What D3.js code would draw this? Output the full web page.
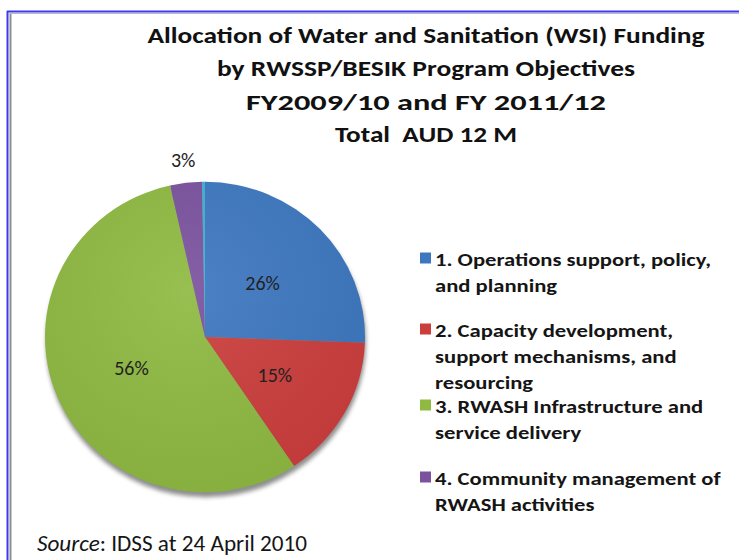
<!DOCTYPE html>
<html><head><meta charset="utf-8">
<script src="https://cdn.jsdelivr.net/npm/d3@7"></script>
<style>
html,body{margin:0;padding:0;background:#fff;}
svg{display:block;}
</style></head>
<body>
<svg id="chart" width="739" height="560"></svg>
<script>
const titleLines = ["Allocation of Water and Sanitation (WSI) Funding","by RWSSP/BESIK Program Objectives","FY2009/10 and FY 2011/12","Total  AUD 12 M"];
const categories = ["1. Operations support, policy, and planning","2. Capacity development, support mechanisms, and resourcing","3. RWASH Infrastructure and service delivery","4. Community management of RWASH activities",""];
const legendLines = [["1. Operations support, policy,","and planning"],["2. Capacity development,","support mechanisms, and","resourcing"],["3. RWASH Infrastructure and","service delivery"],["4. Community management of","RWASH activities"]];
const values = [25.6, 15.0, 55.9, 3.2, 0.3];
const labels = ["26%","15%","56%","3%",""];
const colors = ["#3d77c0","#cc3e3c","#8fba42","#7b529e","#3fb0d4"];
const source = ["Source",": IDSS at 24 April 2010"];

const svg = d3.select("#chart");
const font = "Carlito, Lato, 'Open Sans', sans-serif";

// frame
svg.append("line").attr("x1",7.5).attr("x2",7.5).attr("y1",11).attr("y2",560).attr("stroke","#3a3af0").attr("stroke-width",2);
svg.append("line").attr("x1",7).attr("x2",739).attr("y1",11.5).attr("y2",11.5).attr("stroke","#3a3af0").attr("stroke-width",2);
svg.append("line").attr("x1",10.5).attr("x2",10.5).attr("y1",13).attr("y2",560).attr("stroke","#909090").attr("stroke-width",2);
svg.append("line").attr("x1",10).attr("x2",739).attr("y1",13.5).attr("y2",13.5).attr("stroke","#b8b8c8").attr("stroke-width",1);

// title
const titleY = [43, 76, 110, 142];
const titleW = [557, 418, 360, 182];
titleLines.forEach((t,i)=>{
  const el = svg.append("text").attr("x",426).attr("y",titleY[i]).attr("text-anchor","middle")
    .attr("font-family",font).attr("font-weight","bold").attr("font-size",22).attr("fill","#111")
    .attr("xml:space","preserve").text(t);
  el.attr("textLength",titleW[i]).attr("lengthAdjust","spacingAndGlyphs");
});

// pie
const cx = 205, cy = 337, R = 160, sy = 0.97;
const defs = svg.append("defs");
const f = defs.append("filter").attr("id","blur").attr("x","-10%").attr("y","-10%").attr("width","120%").attr("height","130%");
f.append("feGaussianBlur").attr("stdDeviation",2);

const pie = d3.pie().sort(null).value(d=>d)(values);
const arc = d3.arc().innerRadius(0).outerRadius(R);

const shadow = svg.append("g").attr("transform",`translate(${cx+1},${cy+5}) scale(1,${sy})`);
shadow.append("circle").attr("r",R).attr("fill","#333").attr("opacity",0.55).attr("filter","url(#blur)");

const g = svg.append("g").attr("transform",`translate(${cx},${cy}) scale(1,${sy})`);
g.selectAll("path.slice").data(pie).join("path").attr("class","slice")
  .attr("d",arc).attr("fill",(d,i)=>colors[i]);

const rg = defs.append("radialGradient").attr("id","shine").attr("cx","45%").attr("cy","35%").attr("r","70%");
rg.append("stop").attr("offset","0%").attr("stop-color","#fff").attr("stop-opacity",0.08);
rg.append("stop").attr("offset","100%").attr("stop-color","#000").attr("stop-opacity",0.06);
g.append("circle").attr("r",R).attr("fill","url(#shine)");

// labels
const lab = svg.append("g").attr("transform",`translate(${cx},${cy})`);
pie.forEach((d,i)=>{
  if(!labels[i]) return;
  let [x,y] = arc.centroid(d);
  if (i===3) { const a=(d.startAngle+d.endAngle)/2; x=Math.sin(a)*(R+24); y=-Math.cos(a)*(R+24)*sy; }
  else { y = y*sy; }
  lab.append("text").attr("x",x).attr("y",y+7).attr("text-anchor","middle")
    .attr("font-family",font).attr("font-size",20).attr("fill","#222").text(labels[i]);
});

// legend
const legY = [258, 329, 405, 477];
const lineH = 26;
const legendTexts = [];
legendLines.forEach((lines,i)=>{
  svg.append("rect").attr("x",420).attr("y",legY[i]-5.5).attr("width",11).attr("height",11).attr("fill",colors[i]);
  lines.forEach((ln,j)=>{
    const t = svg.append("text").attr("x",435).attr("y",legY[i]+8+j*lineH)
      .attr("font-family",font).attr("font-weight",600).attr("font-size",19).attr("fill","#151515").text(ln);
    legendTexts.push(t);
  });
});
const k = 276 / legendTexts[0].node().getComputedTextLength();
legendTexts.forEach(t=>{
  const w = t.node().getComputedTextLength();
  t.attr("textLength", w*k).attr("lengthAdjust","spacingAndGlyphs");
});

// source
const st = svg.append("text").attr("x",37).attr("y",551).attr("font-family",font).attr("font-size",21.5).attr("fill","#151515");
st.append("tspan").attr("font-style","italic").text(source[0]);
st.append("tspan").text(source[1]);
st.attr("textLength",270).attr("lengthAdjust","spacingAndGlyphs");
</script>
</body></html>
